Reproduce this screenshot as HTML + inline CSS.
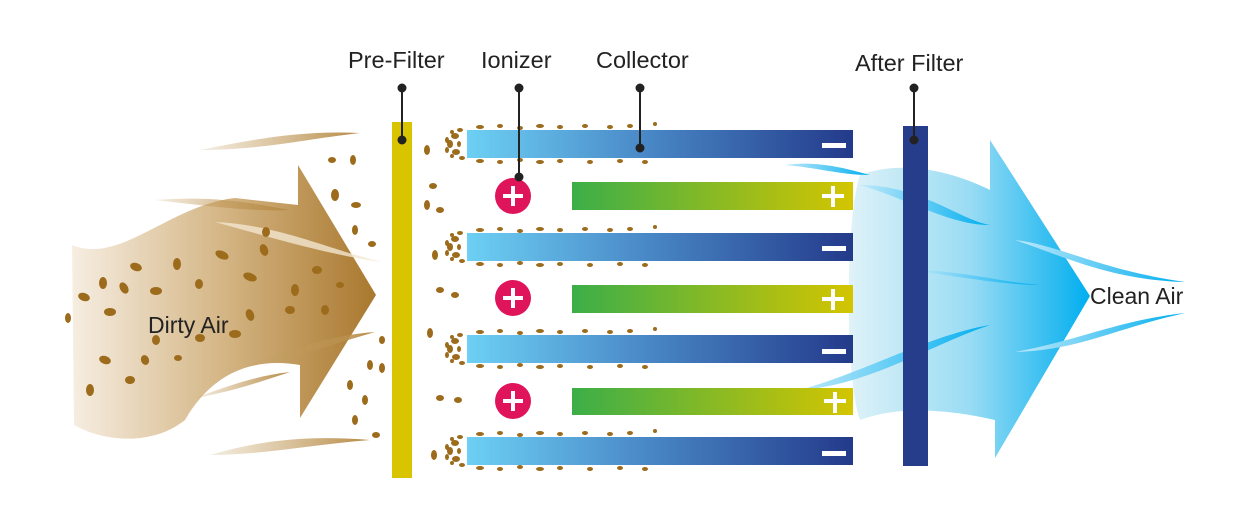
<!DOCTYPE html>
<html><head><meta charset="utf-8"><style>
html,body{margin:0;padding:0;background:#fff;width:1250px;height:510px;overflow:hidden}
svg{display:block}
text{font-family:"Liberation Sans",sans-serif;fill:#222}
</style></head><body>
<svg width="1250" height="510" viewBox="0 0 1250 510" xmlns="http://www.w3.org/2000/svg">
<defs>
<linearGradient id="dirty" x1="0" x2="1" y1="0" y2="0">
<stop offset="0" stop-color="#f6eee2"/><stop offset="0.5" stop-color="#d4b584"/><stop offset="1" stop-color="#a9782e"/></linearGradient>
<linearGradient id="neg" x1="0" x2="1"><stop offset="0" stop-color="#6dd0f4"/><stop offset="0.45" stop-color="#4a8ac8"/><stop offset="1" stop-color="#233a8a"/></linearGradient>
<linearGradient id="pos" x1="0" x2="1"><stop offset="0" stop-color="#3bae49"/><stop offset="1" stop-color="#d4c500"/></linearGradient>
<linearGradient id="clean" x1="0" x2="1"><stop offset="0" stop-color="#dff2f8"/><stop offset="0.5" stop-color="#9adcf4"/><stop offset="1" stop-color="#00aeef"/></linearGradient>
<linearGradient id="wisp" x1="0" x2="1"><stop offset="0" stop-color="#c8a56a" stop-opacity="0.2"/><stop offset="1" stop-color="#b68a45"/></linearGradient>
<linearGradient id="bw" x1="0" x2="1"><stop offset="0" stop-color="#bfe9fa"/><stop offset="1" stop-color="#00aeef"/></linearGradient>
<g id="cl" fill="#9c6b1c">
<ellipse cx="455" cy="-8" rx="4" ry="3"/><ellipse cx="450" cy="0" rx="3" ry="4"/><ellipse cx="456" cy="8" rx="4" ry="3"/><ellipse cx="460" cy="-14" rx="3" ry="2"/><ellipse cx="462" cy="14" rx="3" ry="2"/><ellipse cx="447" cy="-4" rx="2" ry="3"/><ellipse cx="447" cy="6" rx="2" ry="3"/><ellipse cx="452" cy="-12" rx="2" ry="2"/><ellipse cx="452" cy="12" rx="2" ry="2"/><ellipse cx="459" cy="0" rx="2" ry="3"/>
<ellipse cx="480" cy="-17" rx="4" ry="2"/><ellipse cx="500" cy="-18" rx="3" ry="2"/><ellipse cx="520" cy="-16" rx="3" ry="2"/><ellipse cx="540" cy="-18" rx="4" ry="2"/><ellipse cx="560" cy="-17" rx="3" ry="2"/><ellipse cx="585" cy="-18" rx="3" ry="2"/><ellipse cx="610" cy="-17" rx="3" ry="2"/><ellipse cx="630" cy="-18" rx="3" ry="2"/><ellipse cx="655" cy="-20" rx="2" ry="2"/>
<ellipse cx="480" cy="17" rx="4" ry="2"/><ellipse cx="500" cy="18" rx="3" ry="2"/><ellipse cx="520" cy="16" rx="3" ry="2"/><ellipse cx="540" cy="18" rx="4" ry="2"/><ellipse cx="560" cy="17" rx="3" ry="2"/><ellipse cx="590" cy="18" rx="3" ry="2"/><ellipse cx="620" cy="17" rx="3" ry="2"/><ellipse cx="645" cy="18" rx="3" ry="2"/>
</g>
</defs>

<!-- Dirty air -->
<path d="M72,245 C120,265 170,205 235,198 L298,205 L298,165 L376,295 L300,418 L300,365 C240,355 205,385 185,420 C150,448 100,440 74,425 Z" fill="url(#dirty)"/>
<path d="M200,150 C250,140 300,130 360,133 C300,140 260,150 200,150Z" fill="url(#wisp)"/>
<path d="M155,200 C220,195 260,205 290,210 C250,212 200,205 155,200Z" fill="url(#wisp)"/>
<path d="M215,222 C280,225 330,250 382,262 C330,255 280,240 215,222Z" fill="#f3e6d0" opacity="0.8"/>
<path d="M240,368 C290,350 330,335 375,332 C330,345 290,360 240,368Z" fill="url(#wisp)"/>
<path d="M195,398 C230,385 260,375 290,372 C260,382 230,392 195,398Z" fill="url(#wisp)"/>
<path d="M210,455 C260,440 310,435 370,440 C310,445 260,455 210,455Z" fill="url(#wisp)"/>
<g fill="#9c6b1c">
<ellipse cx="136" cy="267" rx="6" ry="4" transform="rotate(20 136 267)"/>
<ellipse cx="177" cy="264" rx="4" ry="6"/>
<ellipse cx="222" cy="255" rx="7" ry="4" transform="rotate(25 222 255)"/>
<ellipse cx="264" cy="250" rx="4" ry="6" transform="rotate(-20 264 250)"/>
<ellipse cx="103" cy="283" rx="4" ry="6"/>
<ellipse cx="124" cy="288" rx="4" ry="6" transform="rotate(-30 124 288)"/>
<ellipse cx="156" cy="291" rx="6" ry="4"/>
<ellipse cx="199" cy="284" rx="4" ry="5"/>
<ellipse cx="250" cy="277" rx="7" ry="4" transform="rotate(20 250 277)"/>
<ellipse cx="295" cy="290" rx="4" ry="6"/>
<ellipse cx="317" cy="270" rx="5" ry="4"/>
<ellipse cx="84" cy="297" rx="6" ry="4" transform="rotate(20 84 297)"/>
<ellipse cx="110" cy="312" rx="6" ry="4"/>
<ellipse cx="68" cy="318" rx="3" ry="5"/>
<ellipse cx="250" cy="315" rx="4" ry="6" transform="rotate(-20 250 315)"/>
<ellipse cx="290" cy="310" rx="5" ry="4"/>
<ellipse cx="200" cy="338" rx="5" ry="4"/>
<ellipse cx="156" cy="340" rx="4" ry="5"/>
<ellipse cx="145" cy="360" rx="4" ry="5" transform="rotate(-20 145 360)"/>
<ellipse cx="178" cy="358" rx="4" ry="3"/>
<ellipse cx="105" cy="360" rx="6" ry="4" transform="rotate(20 105 360)"/>
<ellipse cx="130" cy="380" rx="5" ry="4"/>
<ellipse cx="90" cy="390" rx="4" ry="6"/>
<ellipse cx="235" cy="334" rx="6" ry="4"/>
<ellipse cx="325" cy="310" rx="4" ry="5"/>
<ellipse cx="340" cy="285" rx="4" ry="3"/>
<ellipse cx="266" cy="232" rx="4" ry="5"/>
<ellipse cx="353" cy="160" rx="3" ry="5"/>
<ellipse cx="335" cy="195" rx="4" ry="6"/>
<ellipse cx="356" cy="205" rx="5" ry="3"/>
<ellipse cx="332" cy="160" rx="4" ry="3"/>
<ellipse cx="355" cy="230" rx="3" ry="5"/>
<ellipse cx="372" cy="244" rx="4" ry="3"/>
<ellipse cx="382" cy="340" rx="3" ry="4"/>
<ellipse cx="370" cy="365" rx="3" ry="5"/>
<ellipse cx="350" cy="385" rx="3" ry="5"/>
<ellipse cx="365" cy="400" rx="3" ry="5"/>
<ellipse cx="355" cy="420" rx="3" ry="5"/>
<ellipse cx="376" cy="435" rx="4" ry="3"/>
<ellipse cx="382" cy="368" rx="3" ry="5"/>
<ellipse cx="427" cy="150" rx="3" ry="5"/>
<ellipse cx="433" cy="186" rx="4" ry="3"/>
<ellipse cx="427" cy="205" rx="3" ry="5"/>
<ellipse cx="440" cy="210" rx="4" ry="3"/>
<ellipse cx="435" cy="255" rx="3" ry="5"/>
<ellipse cx="440" cy="290" rx="4" ry="3"/>
<ellipse cx="455" cy="295" rx="4" ry="3"/>
<ellipse cx="430" cy="333" rx="3" ry="5"/>
<ellipse cx="440" cy="398" rx="4" ry="3"/>
<ellipse cx="458" cy="400" rx="4" ry="3"/>
<ellipse cx="434" cy="455" rx="3" ry="5"/>
</g>

<use href="#cl" y="144"/><use href="#cl" y="247"/><use href="#cl" y="349"/><use href="#cl" y="451"/>

<!-- clean air -->
<path d="M860,175 C900,160 950,170 990,190 L990,140 L1090,296 L995,458 L995,420 C950,410 900,405 860,420 C845,380 845,220 860,175Z" fill="url(#clean)"/>
<path d="M785,165 C820,160 850,170 870,175 C840,175 820,168 785,165Z" fill="url(#bw)"/>
<path d="M860,185 C920,185 960,220 990,225 C950,225 910,200 860,185Z" fill="url(#bw)"/>
<path d="M1015,240 C1060,245 1100,270 1185,282 C1110,280 1060,255 1015,240Z" fill="url(#bw)"/>
<path d="M910,270 C960,270 1000,282 1040,285 C1000,285 950,275 910,270Z" fill="url(#bw)"/>
<path d="M1015,352 C1080,340 1120,320 1185,313 C1110,330 1080,350 1015,352Z" fill="url(#bw)"/>
<path d="M800,390 C870,370 930,335 990,325 C930,345 870,385 800,390Z" fill="url(#bw)"/>

<!-- pre filter -->
<rect x="392" y="122" width="20" height="356" fill="#d8c500"/>

<!-- plates -->
<rect x="467" y="130" width="386" height="28" fill="url(#neg)"/>
<rect x="467" y="233" width="386" height="28" fill="url(#neg)"/>
<rect x="467" y="335" width="386" height="28" fill="url(#neg)"/>
<rect x="467" y="437" width="386" height="28" fill="url(#neg)"/>
<rect x="572" y="182" width="281" height="28" fill="url(#pos)"/>
<rect x="572" y="285" width="281" height="28" fill="url(#pos)"/>
<rect x="572" y="388" width="281" height="27" fill="url(#pos)"/>
<g fill="#fff">
<rect x="822" y="143" width="24" height="5"/><rect x="822" y="246" width="24" height="5"/><rect x="822" y="349" width="24" height="5"/><rect x="822" y="451" width="24" height="5"/>
<rect x="822" y="194" width="22" height="4"/><rect x="831" y="186" width="4" height="21"/>
<rect x="822" y="297" width="22" height="4"/><rect x="831" y="289" width="4" height="21"/>
<rect x="824" y="399" width="22" height="4"/><rect x="833" y="392" width="4" height="21"/>
</g>

<!-- ionizers -->
<g>
<circle cx="513" cy="196" r="18" fill="#e0145a"/><circle cx="513" cy="298" r="18" fill="#e0145a"/><circle cx="513" cy="401" r="18" fill="#e0145a"/>
<g fill="#fff"><rect x="503" y="194" width="20" height="4"/><rect x="511" y="186" width="4" height="20"/>
<rect x="503" y="296" width="20" height="4"/><rect x="511" y="288" width="4" height="20"/>
<rect x="503" y="399" width="20" height="4"/><rect x="511" y="391" width="4" height="20"/></g>
</g>

<!-- after filter -->
<rect x="903" y="126" width="25" height="340" fill="#263d8c"/>

<!-- leaders -->
<g stroke="#222" stroke-width="2" fill="#222">
<line x1="402" y1="88" x2="402" y2="140"/><circle cx="402" cy="88" r="3.5"/><circle cx="402" cy="140" r="3.5"/>
<line x1="519" y1="88" x2="519" y2="177"/><circle cx="519" cy="88" r="3.5"/><circle cx="519" cy="177" r="3.5"/>
<line x1="640" y1="88" x2="640" y2="148"/><circle cx="640" cy="88" r="3.5"/><circle cx="640" cy="148" r="3.5"/>
<line x1="914" y1="88" x2="914" y2="140"/><circle cx="914" cy="88" r="3.5"/><circle cx="914" cy="140" r="3.5"/>
</g>

<text x="348" y="68" font-size="23.5">Pre-Filter</text>
<text x="481" y="68" font-size="23.5">Ionizer</text>
<text x="596" y="68" font-size="23.5">Collector</text>
<text x="855" y="71" font-size="23.5">After Filter</text>
<text x="148" y="333" font-size="23">Dirty Air</text>
<text x="1090" y="304" font-size="23">Clean Air</text>
</svg>
</body></html>
